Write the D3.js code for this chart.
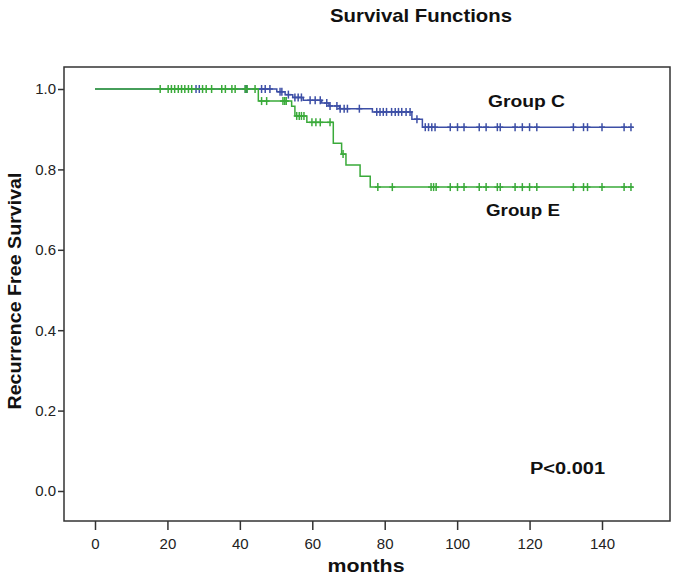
<!DOCTYPE html>
<html>
<head>
<meta charset="utf-8">
<script src="https://cdn.jsdelivr.net/npm/d3@7"></script>
<style>
  body { margin: 0; background: #fff; }
  svg { font-family: "Liberation Sans", Arial, sans-serif; }
</style>
</head>
<body>
<svg id="chart" width="675" height="577"></svg>
<script>
// data
var xTicks = [0, 20, 40, 60, 80, 100, 120, 140];
var yTicks = [0.0, 0.2, 0.4, 0.6, 0.8, 1.0];

// step changes: [month, survival]
var groupCSteps = [[0, 1.0], [50.2, 0.993], [52.5, 0.986], [54.6, 0.979], [57.5, 0.972],
    [62.6, 0.965], [64.6, 0.958], [67.5, 0.951], [76.6, 0.943], [87.5, 0.925], [90.4, 0.905]];
var groupCCensor = [27.9, 28.8, 41.5, 41.9, 46, 47, 48.3, 51.1, 51.6, 53.4, 55.2, 56.1, 57, 59.4,
    60.8, 62.2, 64, 64.9, 66.8, 67.7, 68.8, 69.7, 73, 77.8, 78.7, 79.6, 80.5, 81.9, 82.9, 83.8,
    84.7, 85.9, 87, 88.9, 91.2, 92.1, 93, 93.9, 98.1, 100.1, 101.9, 106.1, 108, 111.1, 111.9,
    116, 118, 120, 122, 132.1, 134.9, 136, 140, 146.1, 148];

var groupESteps = [[0, 1.0], [45.1, 0.970], [54.3, 0.957], [55.2, 0.933], [58.5, 0.917],
    [65.8, 0.865], [68.1, 0.838], [69.3, 0.811], [73.2, 0.783], [76.0, 0.756]];
var groupECensor = [18, 20.2, 21.1, 22, 23, 23.9, 24.8, 25.8, 26.7, 29.7, 30.7, 32.2, 35, 36,
    37.8, 38.7, 41.5, 42, 44.2, 46, 47.4, 51.9, 52.4, 52.8, 55.7, 56.4, 57, 57.7, 59.9, 61, 62.2,
    64.9, 68.5, 78.1, 82.1, 92.8, 93.5, 94.2, 98.1, 100.1, 101.9, 106.1, 108, 111.1, 111.9,
    116, 118, 120, 122, 132.1, 134.9, 136, 140, 146.1, 148];
var lastMonth = 148.5;

var svg = d3.select('#chart');
var frame = {left: 64, right: 670, top: 67, bottom: 521};

var x = d3.scaleLinear().domain([0, 140]).range([95, 602]);
var y = d3.scaleLinear().domain([0, 1]).range([491, 89]);

// frame
svg.append('rect')
    .attr('x', frame.left).attr('y', frame.top)
    .attr('width', frame.right - frame.left).attr('height', frame.bottom - frame.top)
    .attr('fill', 'none').attr('stroke', '#333').attr('stroke-width', 1.5);

// axes
var yAxis = svg.append('g')
    .attr('transform', 'translate(' + frame.left + ',0)')
    .call(d3.axisLeft(y).tickValues(yTicks).tickFormat(d3.format('.1f')).tickSize(6).tickPadding(2));
var xAxis = svg.append('g')
    .attr('transform', 'translate(0,' + frame.bottom + ')')
    .call(d3.axisBottom(x).tickValues(xTicks).tickSize(9).tickPadding(8));
[xAxis, yAxis].forEach(function(a) {
    a.select('.domain').remove();
    a.selectAll('line').attr('stroke', '#333').attr('stroke-width', 1.5);
    a.selectAll('text').attr('font-size', 15).attr('fill', '#222')
        .attr('font-family', '"Liberation Sans", Arial, sans-serif');
});

function drawGroup(steps, censor, color) {
    var pts = [];
    steps.forEach(function(s, i) {
        if (i > 0) pts.push([s[0], steps[i - 1][1]]);
        pts.push(s);
    });
    pts.push([lastMonth, steps[steps.length - 1][1]]);

    svg.append('path')
        .datum(pts)
        .attr('fill', 'none')
        .attr('stroke', color)
        .attr('stroke-width', 1.5)
        .attr('d', d3.line().x(function(d) { return x(d[0]); }).y(function(d) { return y(d[1]); }));

    function survAt(t) {
        var v = 1;
        steps.forEach(function(s) { if (s[0] <= t) v = s[1]; });
        return v;
    }

    var marks = svg.append('g');
    censor.forEach(function(t) {
        var cx = x(t), cy = y(survAt(t));
        marks.append('line').attr('x1', cx).attr('x2', cx).attr('y1', cy - 4).attr('y2', cy + 4)
            .attr('stroke', color).attr('stroke-width', 1.5);
        marks.append('line').attr('x1', cx - 3).attr('x2', cx + 3).attr('y1', cy).attr('y2', cy)
            .attr('stroke', color).attr('stroke-width', 1.5);
    });
}

drawGroup(groupCSteps, groupCCensor, '#3d4fa6');
drawGroup(groupESteps, groupECensor, '#3aaa3a');

// texts
function label(xp, yp, txt, size, len, anchor) {
    return svg.append('text').attr('x', xp).attr('y', yp)
        .attr('text-anchor', anchor || 'start')
        .attr('font-size', size).attr('font-weight', 'bold').attr('fill', '#111')
        .attr('textLength', len).attr('lengthAdjust', 'spacingAndGlyphs')
        .text(txt);
}
label(421, 22, 'Survival Functions', 19, 182, 'middle');
label(366, 572, 'months', 19, 77, 'middle');
label(0, 0, 'Recurrence Free Survival', 19, 237, 'middle')
    .attr('transform', 'translate(21,291) rotate(-90)');
label(488, 107, 'Group C', 16, 77);
label(486, 216, 'Group E', 16, 74);
label(530, 474, 'P<0.001', 16, 75);
</script>
</body>
</html>
